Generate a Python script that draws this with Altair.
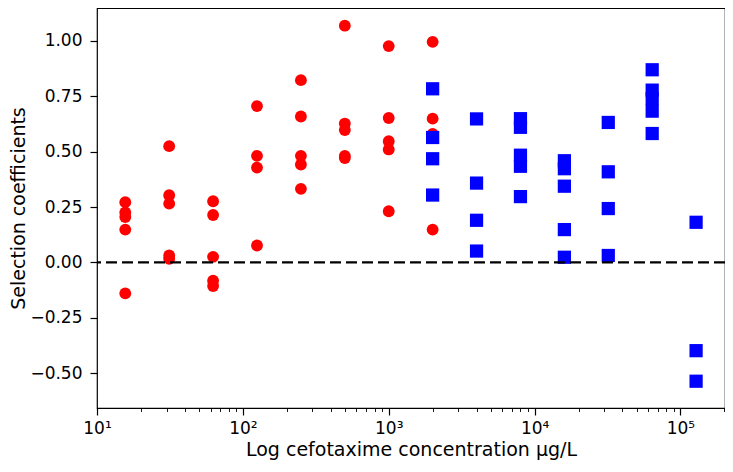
import altair as alt
import pandas as pd

# Red circles (low concentrations)
red_conc = [15.625, 31.25, 62.5, 125, 250, 500, 1000, 2000]
red_vals = [
    [0.272, 0.225, 0.205, 0.148, -0.140],
    [0.525, 0.303, 0.265, 0.031, 0.016],
    [0.276, 0.214, 0.025, -0.083, -0.107],
    [0.706, 0.481, 0.428, 0.076],
    [0.823, 0.659, 0.481, 0.442, 0.332],
    [1.069, 0.627, 0.598, 0.481, 0.471],
    [0.977, 0.652, 0.547, 0.510, 0.231],
    [0.996, 0.649, 0.580, 0.148],
]

# Blue squares (high concentrations)
blue_conc = [2000, 4000, 8000, 16000, 32000, 64000, 128000]
blue_vals = [
    [0.784, 0.564, 0.468, 0.304],
    [0.648, 0.358, 0.190, 0.051],
    [0.649, 0.610, 0.484, 0.434, 0.297],
    [0.459, 0.423, 0.344, 0.148, 0.023],
    [0.632, 0.409, 0.243, 0.031],
    [0.870, 0.778, 0.740, 0.683, 0.582],
    [0.181, -0.399, -0.537],
]

x_major = [10, 100, 1000, 10000, 100000]
x_ticks = [k * 10 ** e for e in range(1, 6) for k in range(1, 10)] + [200000]
y_ticks = [-0.5, -0.25, 0.0, 0.25, 0.5, 0.75, 1.0]

red_df = pd.DataFrame(
    [{"conc": c, "s": v} for c, vs in zip(red_conc, red_vals) for v in vs]
)
blue_df = pd.DataFrame(
    [{"conc": c, "s": v} for c, vs in zip(blue_conc, blue_vals) for v in vs]
)
zero_df = pd.DataFrame({"s": [0.0]})

FONT = "DejaVu Sans"
W, H = 628, 400

x_scale = alt.Scale(type="log", domain=[10, 202000], nice=False)
y_scale = alt.Scale(domain=[-0.658, 1.149], nice=False, zero=False)

major_test = "indexof([10,100,1000,10000,100000], datum.value) >= 0"
label_expr = (
    "datum.value == 10 ? '10¹' : datum.value == 100 ? '10²' : "
    "datum.value == 1000 ? '10³' : datum.value == 10000 ? '10⁴' : "
    "datum.value == 100000 ? '10⁵' : ''"
)

x_axis = alt.Axis(
    title="Log cefotaxime concentration μg/L",
    values=x_ticks,
    labelExpr=label_expr,
    tickSize={"condition": {"test": major_test, "value": 7}, "value": 3.5},
    tickWidth={"condition": {"test": major_test, "value": 1.2}, "value": 0.9},
    labelFlush=False,
    labelOverlap=False,
    labelPadding=5,
    titlePadding=4,
    grid=False,
    domain=False,
)
y_axis = alt.Axis(
    title="Selection coefficients",
    values=y_ticks,
    format=".2f",
    tickSize=7,
    tickWidth=1.2,
    labelPadding=8,
    titleX=-73,
    titleY=H / 2,
    titleBaseline="alphabetic",
    grid=False,
    domain=False,
)

red = alt.Chart(red_df).mark_point(
    shape="circle", filled=True, color="#ff0000", size=140, opacity=1
).encode(
    x=alt.X("conc:Q", scale=x_scale, axis=x_axis),
    y=alt.Y("s:Q", scale=y_scale, axis=y_axis),
)

blue = alt.Chart(blue_df).mark_point(
    shape="square", filled=True, color="#0000ff", size=175, opacity=1
).encode(
    x=alt.X("conc:Q", scale=x_scale),
    y=alt.Y("s:Q", scale=y_scale),
)

zero = alt.Chart(zero_df).mark_rule(
    color="black", strokeDash=[11, 5], strokeWidth=2.2
).encode(y=alt.Y("s:Q", scale=y_scale))

chart = (
    alt.layer(red, blue, zero)
    .properties(
        width=W,
        height=H,
        autosize=alt.AutoSizeParams(type="none"),
        padding={"left": 89, "top": 0, "right": 0, "bottom": 56},
    )
    .configure_view(stroke="black", strokeWidth=1.2)
    .configure_axis(
        labelFont=FONT,
        titleFont=FONT,
        labelFontSize=17,
        titleFontSize=19,
        labelColor="black",
        titleColor="black",
        tickColor="black",
        titleFontWeight="normal",
    )
)

chart.save("out.html", embed_options={"renderer": "svg", "actions": False})
